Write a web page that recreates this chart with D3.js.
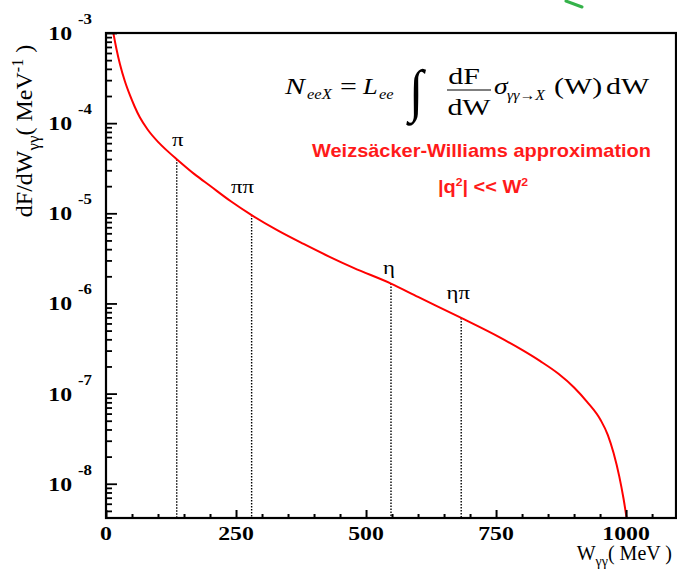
<!DOCTYPE html>
<html>
<head>
<meta charset="utf-8">
<script src="https://cdn.jsdelivr.net/npm/d3@7"></script>
<style>
  html, body { margin: 0; padding: 0; background: #fff; }
  svg { display: block; }
</style>
</head>
<body>
<svg id="chart" width="677" height="571"></svg>
<script>
// ---- data ----
const curveW = [13, 15, 20, 27, 36, 46, 55, 65, 80, 100, 120, 136, 170, 200, 240, 280, 330, 380, 430, 476, 548, 600, 683, 758, 800, 835, 870, 900, 925, 951, 965, 976, 987, 995, 1003];
const curveV = [1.10e-3, 9.4e-4, 6.7e-4, 4.47e-4, 2.95e-4, 2.04e-4, 1.53e-4, 1.16e-4, 8.5e-5, 6.2e-5, 4.8e-5, 3.98e-5, 2.72e-5, 2.02e-5, 1.36e-5, 9.55e-6, 6.46e-6, 4.57e-6, 3.29e-6, 2.48e-6, 1.66e-6, 1.18e-6, 6.9e-7, 4.17e-7, 3.05e-7, 2.29e-7, 1.66e-7, 1.17e-7, 8.1e-8, 5.1e-8, 3.47e-8, 2.19e-8, 1.20e-8, 6.9e-9, 3.5e-9];
const markerNames = ["π", "ππ", "η", "ηπ"];
const markerW = [136, 280, 548, 683];
const markerV = [3.98e-5, 9.55e-6, 1.66e-6, 6.9e-7];
const xTickValues = [0, 250, 500, 750, 1000];
const yDecadeExps = [-3, -4, -5, -6, -7, -8];

// ---- layout ----
const L = 106, R = 676, T = 33, B = 518;
const svg = d3.select("#chart");
const x = d3.scaleLinear().domain([0, 1096]).range([L, R]);
const y = d3.scaleLog().domain([Math.pow(10, -8.38), 1e-3]).range([B, T]);

const serif = "'Liberation Serif', 'Times New Roman', serif";
const sans = "'Liberation Sans', Arial, sans-serif";

// text helper with horizontal stretch
function stext(parent, px, py, sx, size, anchor) {
  return parent.append("text")
    .attr("transform", `translate(${px},${py}) scale(${sx},1)`)
    .attr("text-anchor", anchor || "start")
    .attr("font-size", size);
}

// decorative green stroke at top
svg.append("line").attr("x1", 566).attr("y1", 1).attr("x2", 582).attr("y2", 7)
  .attr("stroke", "#35b24a").attr("stroke-width", 3).attr("stroke-linecap", "round");

svg.append("clipPath").attr("id", "plotclip").append("rect")
  .attr("x", L).attr("y", T).attr("width", R - L).attr("height", B - T);

// marker dotted lines
const markers = markerW.map((w, i) => ({ w, v: markerV[i], name: markerNames[i] }));
svg.append("g").selectAll("line").data(markers).join("line")
  .attr("x1", d => x(d.w)).attr("x2", d => x(d.w))
  .attr("y1", d => y(d.v)).attr("y2", B)
  .attr("stroke", "#000").attr("stroke-width", 1.4).attr("stroke-dasharray", "1.5,1.5");

// marker labels (pixel offsets from marker point)
const labelOff = [[1, -13], [-9, -22], [-2, -10], [-3, -19]];
svg.append("g").attr("font-family", serif).selectAll("text").data(markers).join("text")
  .attr("transform", (d, i) => `translate(${x(d.w) + labelOff[i][0]},${y(d.v) + labelOff[i][1]}) scale(1.2,1)`)
  .attr("text-anchor", "middle")
  .attr("font-size", 19)
  .text(d => d.name);

// curve
const pts = curveW.map((w, i) => ({ w, v: curveV[i] }));
svg.append("path").datum(pts)
  .attr("clip-path", "url(#plotclip)")
  .attr("fill", "none").attr("stroke", "#ff0000").attr("stroke-width", 2)
  .attr("d", d3.line().x(d => x(d.w)).y(d => y(d.v)).curve(d3.curveMonotoneX));

// axes
const xAxisMajor = d3.axisTop(x).tickValues(xTickValues).tickSize(8).tickFormat("");
const xAxisMinor = d3.axisTop(x).tickValues(d3.range(50, 1096, 50).filter(v => v % 250 !== 0)).tickSize(4).tickFormat("");
const gxM = svg.append("g").attr("transform", `translate(0,${B})`).call(xAxisMajor);
const gxm = svg.append("g").attr("transform", `translate(0,${B})`).call(xAxisMinor);
[gxM, gxm].forEach(g => { g.select(".domain").remove(); g.selectAll("line").attr("stroke", "#000").attr("stroke-width", 2); });

const minorY = [];
for (let e = -9; e <= -4; e++) for (let m = 2; m <= 9; m++) {
  const v = m * Math.pow(10, e);
  if (v > y.domain()[0] && v < 1e-3) minorY.push(v);
}
const yAxisMajor = d3.axisRight(y).tickValues(yDecadeExps.map(e => Math.pow(10, e))).tickSize(11).tickFormat("");
const yAxisMinor = d3.axisRight(y).tickValues(minorY).tickSize(6).tickFormat("");
const gyM = svg.append("g").attr("transform", `translate(${L},0)`).call(yAxisMajor);
const gym = svg.append("g").attr("transform", `translate(${L},0)`).call(yAxisMinor);
[gyM, gym].forEach(g => { g.select(".domain").remove(); g.selectAll("line").attr("stroke", "#000").attr("stroke-width", 1.8); });

// frame
svg.append("rect").attr("x", L).attr("y", T).attr("width", R - L).attr("height", B - T)
  .attr("fill", "none").attr("stroke", "#000").attr("stroke-width", 2.2);

// x tick labels
svg.append("g").attr("font-family", serif).attr("font-weight", "bold")
  .selectAll("text").data(xTickValues).join("text")
  .attr("transform", d => `translate(${x(d)},540) scale(1.25,1)`)
  .attr("text-anchor", "middle")
  .attr("font-size", 19)
  .text(d => d);

// y tick labels: 10^e
const yl = svg.append("g").attr("font-family", serif).attr("font-weight", "bold")
  .selectAll("g").data(yDecadeExps).join("g");
yl.append("text")
  .attr("transform", d => `translate(72,${y(Math.pow(10, d)) + 7}) scale(1.25,1)`)
  .attr("text-anchor", "end").attr("font-size", 19)
  .text("10");
yl.append("text")
  .attr("transform", d => `translate(78,${y(Math.pow(10, d)) - 9}) scale(1.2,1)`)
  .attr("font-size", 14)
  .text(d => String(d));

// x title
const xt = svg.append("text").attr("x", 672).attr("y", 560).attr("text-anchor", "end")
  .attr("font-family", serif).attr("font-size", 20);
xt.append("tspan").text("W");
xt.append("tspan").attr("font-size", 14).attr("dy", 6).text("γγ");
xt.append("tspan").attr("dy", -6).text("( MeV )");

// y title
const yt = svg.append("text").attr("transform", "translate(32,131) rotate(-90)")
  .attr("text-anchor", "middle").attr("font-family", serif).attr("font-size", 24);
yt.append("tspan").text("dF/dW");
yt.append("tspan").attr("font-size", 17).attr("dy", 7).text("γγ");
yt.append("tspan").attr("dy", -7).text("( MeV");
yt.append("tspan").attr("font-size", 16).attr("dy", -9).text("-1");
yt.append("tspan").attr("dy", 9).text(" )");

// formula
const f = svg.append("g").attr("font-family", serif).attr("fill", "#000");
const fb = 94, fs = 23, ss = 15, sxf = 1.3;
stext(f, 285, fb, sxf, fs).attr("font-style", "italic").text("N");
stext(f, 307, fb + 5, 1.1, ss).attr("font-style", "italic").text("eeX");
stext(f, 340, fb, sxf, fs).text("=");
stext(f, 363, fb, 1.15, fs).attr("font-style", "italic").text("L");
stext(f, 379, fb + 5, 1.1, ss).attr("font-style", "italic").text("ee");
stext(f, 409, 110, 0.9, 58).text("∫");
stext(f, 464, 84, sxf, fs, "middle").text("dF");
f.append("line").attr("x1", 447).attr("x2", 491).attr("y1", 90).attr("y2", 90).attr("stroke", "#000").attr("stroke-width", 1.2);
stext(f, 469, 115, sxf, fs, "middle").text("dW");
stext(f, 494, fb, 1.2, fs).attr("font-style", "italic").text("σ");
stext(f, 507, fb + 6, 1.05, ss).attr("font-style", "italic").text("γγ→X");
stext(f, 554, fb, sxf, fs).text("(W)");
stext(f, 606, fb, sxf, fs).text("dW");

// red annotations
const ann = svg.append("g").attr("font-family", sans).attr("font-weight", "bold").attr("fill", "#ff1a1a");
stext(ann, 481.5, 157, 1.11, 18, "middle").text("Weizsäcker-Williams approximation");
const q = stext(ann, 483, 193, 1.11, 18, "middle");
q.append("tspan").text("|q");
q.append("tspan").attr("font-size", 11).attr("dy", -7).text("2");
q.append("tspan").attr("dy", 7).text("| << W");
q.append("tspan").attr("font-size", 11).attr("dy", -7).text("2");
</script>
</body>
</html>
